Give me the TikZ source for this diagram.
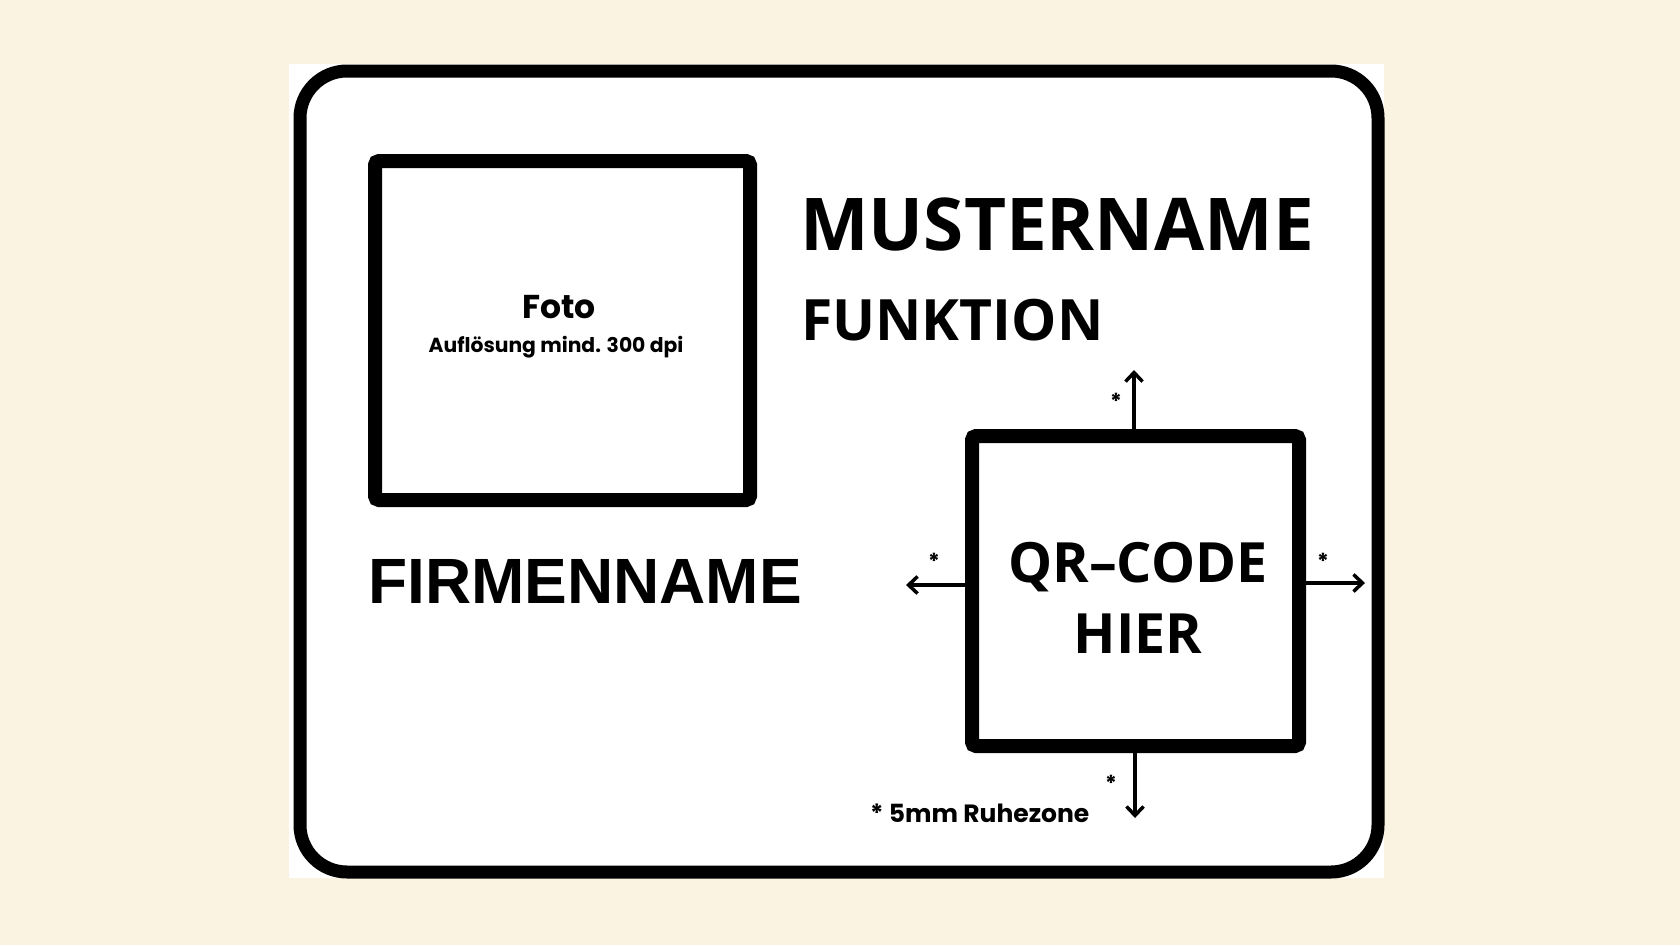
\documentclass[tikz,border=0pt]{standalone}
\usepackage{fontspec}
\setmainfont{Open Sans}
\newfontfamily\popfont{Poppins}
\newfontfamily\arialfont{Liberation Sans}
\usetikzlibrary{arrows.meta}
\usetikzlibrary{positioning}

\definecolor{creme}{RGB}{250,243,225}

\tikzset{
  kasten/.style={draw=black,line width=14pt,rounded corners=4pt,fill=white,inner sep=0pt},
  titel/.style={anchor=base west,inner sep=0pt,font=\bfseries},
  zone/.style={line width=3.5pt,-{Straight Barb[length=9pt,width=17pt,line width=3.5pt]}},
  stern/.style={inner sep=0pt,font=\popfont\bfseries\fontsize{22}{22}\selectfont}
}

\begin{document}
\begin{tikzpicture}[x=1pt,y=-1pt]
      \useasboundingbox (0,0) rectangle (1680,945);
      \fill[creme] (0,0) rectangle (1680,945);
      \fill[white] (289,64) rectangle (1384,878);
      % Rahmen der Karte
      \draw[line width=13pt,rounded corners=47pt] (300,71) rectangle (1378,872);
      % Foto
      \node[kasten,minimum width=375pt,minimum height=339pt] (foto) at (562.5,330.5) {};
      \node[inner sep=0pt,anchor=base,font=\popfont\bfseries\fontsize{33}{33}\selectfont] (fototext) at (559,318) {Foto};
      \node[inner sep=0pt,anchor=base,font=\popfont\bfseries\fontsize{20.3}{20.3}\selectfont] (aufl) at (556,352) {Auflösung mind. 300 dpi};
      % Namen
      \node[titel,font=\bfseries\fontsize{72.8}{72.8}\selectfont] (name) at (800,250) {MUSTERNAME};
      \node[titel,font=\bfseries\fontsize{57}{57}\selectfont] (funktion) at (801,340) {FUNKTION};
      \node[titel,font=\arialfont\bfseries\fontsize{64}{64}\selectfont] (firma) at (368,603) {FIRMENNAME};
      % QR-Code mit Ruhezone
      \node[kasten,minimum width=327pt,minimum height=310pt] (qr) at (1135.5,591) {};
      \node[align=center,inner sep=0pt,font=\bfseries\fontsize{55.5}{71}\selectfont] (qrtext) at (1138,598) {QR–CODE\\HIER};
      \coordinate (zoben) at (1134,370);
      \coordinate (zlinks) at (906,585);
      \coordinate (zrechts) at (1365,583);
      \coordinate (zunten) at (1135,818);
      \draw[zone] (qr.north -| zoben) -- (zoben);
      \draw[zone] (qr.west |- zlinks) -- (zlinks);
      \draw[zone] (qr.east |- zrechts) -- (zrechts);
      \draw[zone] (qr.south -| zunten) -- (zunten);
      \foreach \n/\x/\y in {so/1116/401,sl/934/561,sr/1323/561,su/1111/783}
      \node[stern] (\n) at (\x,\y) {*};
      \node[inner sep=0pt,anchor=base west,font=\popfont\bfseries\fontsize{25}{25}\selectfont] (ruhe) at (870,822) {* 5mm Ruhezone};
\end{tikzpicture}
\end{document}
